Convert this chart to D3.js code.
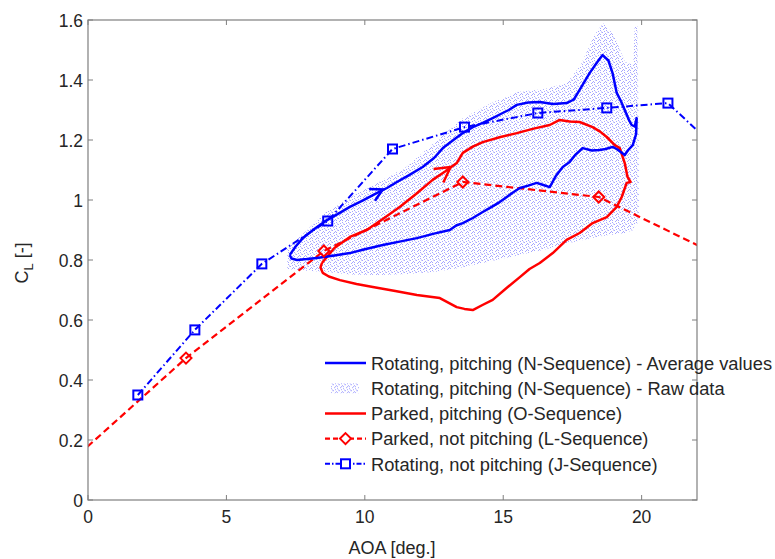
<!DOCTYPE html>
<html>
<head>
<meta charset="utf-8">
<script src="https://cdn.jsdelivr.net/npm/d3@7"></script>
<style>
  body { margin: 0; background: #fff; }
  text { font-family: "Liberation Sans", Arial, sans-serif; fill: #262626; }
</style>
</head>
<body>
<script>
// N-Sequence average loop (upper branch then lower branch)
const avgAoa = [7.29, 7.5, 7.76, 8.2, 8.63, 9.0, 9.46, 9.9, 10.43, 10.8, 11.16, 11.6, 12.09, 12.5, 12.82, 13.2, 13.54, 13.9, 14.26, 14.6, 14.98, 15.2, 15.49, 15.9, 16.32, 16.8, 17.29, 17.55, 17.76, 18.12, 18.4, 18.59, 18.8, 18.95, 19.1, 19.25, 19.39, 19.55, 19.64, 19.75, 19.82, 19.8, 19.68, 19.5, 19.39,
  19.1, 18.95, 18.7, 18.48, 18.2, 17.87, 17.6, 17.4, 17.15, 16.9, 16.68, 16.45, 16.21, 15.9, 15.6, 15.35, 15.13, 14.87, 14.6, 14.26, 13.9, 13.54, 13.3, 13.07, 12.5, 11.88, 11.3, 10.65, 10.0, 9.46, 8.9, 8.27, 7.9, 7.55, 7.35, 7.29];
const avgCl = [0.817, 0.845, 0.873, 0.905, 0.933, 0.952, 0.977, 0.997, 1.023, 1.04, 1.06, 1.083, 1.11, 1.14, 1.173, 1.2, 1.223, 1.243, 1.257, 1.272, 1.29, 1.3, 1.317, 1.325, 1.327, 1.32, 1.323, 1.335, 1.367, 1.423, 1.46, 1.483, 1.465, 1.423, 1.357, 1.33, 1.3, 1.265, 1.25, 1.245, 1.273, 1.22, 1.183, 1.165, 1.15,
  1.17, 1.177, 1.17, 1.167, 1.165, 1.173, 1.15, 1.127, 1.11, 1.08, 1.043, 1.05, 1.057, 1.048, 1.04, 1.025, 1.01, 0.993, 0.978, 0.96, 0.94, 0.923, 0.915, 0.9, 0.888, 0.873, 0.862, 0.85, 0.836, 0.823, 0.815, 0.807, 0.803, 0.8, 0.805, 0.817];

// O-Sequence loop (parked, pitching)
const pitchAoa = [8.45, 8.9, 9.46, 10.07, 10.7, 11.26, 11.85, 12.45, 12.9, 13.32, 13.54, 13.9, 14.26, 14.9, 15.49, 16.1, 16.68, 17.04, 17.4, 17.76, 18.23, 18.5, 18.74, 19.03, 19.21, 19.39, 19.49, 19.6,
  19.46, 19.28, 19.1, 18.74, 18.23, 17.76, 17.29, 16.79, 16.32, 15.95, 15.6, 15.1, 14.62, 14.25, 13.9, 13.6, 13.32, 12.71, 11.88, 11.1, 10.29, 9.7, 9.1, 8.7, 8.48, 8.4, 8.45];
const pitchCl = [0.79, 0.84, 0.877, 0.9, 0.94, 0.977, 1.02, 1.067, 1.095, 1.123, 1.157, 1.178, 1.193, 1.21, 1.223, 1.238, 1.25, 1.267, 1.262, 1.26, 1.243, 1.228, 1.21, 1.183, 1.173, 1.123, 1.077, 1.06,
  1.057, 1.01, 0.977, 0.943, 0.923, 0.89, 0.867, 0.823, 0.79, 0.77, 0.743, 0.705, 0.667, 0.65, 0.633, 0.637, 0.643, 0.673, 0.683, 0.697, 0.71, 0.72, 0.733, 0.745, 0.757, 0.775, 0.79];

// L-Sequence (parked, not pitching)
const parkedAoa = [-1.5, 3.54, 8.52, 13.54, 18.45, 24];
const parkedCl = [0.055, 0.473, 0.83, 1.06, 1.01, 0.76];

// J-Sequence (rotating, not pitching)
const rotAoa = [1.8, 3.86, 6.28, 8.66, 11.0, 13.6, 16.25, 18.74, 20.95, 24];
const rotCl = [0.35, 0.567, 0.787, 0.93, 1.17, 1.243, 1.29, 1.307, 1.323, 1.06];

// raw data cloud envelope
const rawAoa = [7.2, 7.8, 8.6, 9.5, 10.5, 11.5, 12.5, 13.5, 14.5, 15.5, 16.5, 17.3, 17.8, 18.3, 18.6, 19.0, 19.4, 19.7, 19.75, 19.85, 19.9];
const rawLow = [0.77, 0.765, 0.76, 0.752, 0.75, 0.753, 0.76, 0.775, 0.795, 0.815, 0.835, 0.855, 0.865, 0.875, 0.88, 0.885, 0.89, 0.9, 0.92, 0.92, 0.95];
const rawHigh = [0.84, 0.89, 0.96, 1.01, 1.06, 1.11, 1.19, 1.27, 1.32, 1.36, 1.37, 1.39, 1.45, 1.55, 1.59, 1.55, 1.46, 1.45, 1.58, 1.58, 1.2];

// direction arrows on the two loops
const arrowAoa = [10.65, 13.1];
const arrowCl = [1.035, 1.11];

const xTicks = [0, 5, 10, 15, 20];
const yTicks = [0, 0.2, 0.4, 0.6, 0.8, 1, 1.2, 1.4, 1.6];
const legendLabels = [
  "Rotating, pitching (N-Sequence) - Average values",
  "Rotating, pitching (N-Sequence) - Raw data",
  "Parked, pitching (O-Sequence)",
  "Parked, not pitching (L-Sequence)",
  "Rotating, not pitching (J-Sequence)"
];

const width = 775, height = 559;
const pLeft = 88, pRight = 697, pTop = 20, pBottom = 500;

const x = d3.scaleLinear().domain([0, 22]).range([pLeft, pRight]);
const y = d3.scaleLinear().domain([0, 1.6]).range([pBottom, pTop]);

const svg = d3.select("body").append("svg")
  .attr("width", width)
  .attr("height", height);

const defs = svg.append("defs");
defs.append("clipPath").attr("id", "plotclip")
  .append("rect")
  .attr("x", pLeft).attr("y", pTop)
  .attr("width", pRight - pLeft).attr("height", pBottom - pTop);

// light blue speckle tile for the raw samples
const pat = defs.append("pattern")
  .attr("id", "rawdots")
  .attr("patternUnits", "userSpaceOnUse")
  .attr("width", 6).attr("height", 6);
[[0, 0], [4, 1], [2, 2], [5, 3], [0, 4], [3, 5], [1, 1.5], [4, 4]].forEach(function (p) {
  pat.append("rect").attr("x", p[0]).attr("y", p[1]).attr("width", 1).attr("height", 1)
    .attr("fill", "#6b6bff").attr("opacity", 0.6);
});

const zip = (a, b) => a.map((v, i) => [v, b[i]]);
const line = d3.line().x(d => x(d[0])).y(d => y(d[1]));

const plot = svg.append("g").attr("clip-path", "url(#plotclip)");

// raw data cloud
plot.append("path")
  .datum(rawAoa.map((v, i) => [v, rawLow[i], rawHigh[i]]))
  .attr("d", d3.area().x(d => x(d[0])).y0(d => y(d[1])).y1(d => y(d[2])))
  .attr("fill", "url(#rawdots)");

// J-Sequence
plot.append("path")
  .datum(zip(rotAoa, rotCl))
  .attr("d", line)
  .attr("fill", "none")
  .attr("stroke", "#0000ff")
  .attr("stroke-width", 2)
  .attr("stroke-dasharray", "7,3,1.5,3");

// L-Sequence
plot.append("path")
  .datum(zip(parkedAoa, parkedCl))
  .attr("d", line)
  .attr("fill", "none")
  .attr("stroke", "#ff0000")
  .attr("stroke-width", 2.2)
  .attr("stroke-dasharray", "7,4");

// O-Sequence loop
plot.append("path")
  .datum(zip(pitchAoa, pitchCl))
  .attr("d", line)
  .attr("fill", "none")
  .attr("stroke", "#ff0000")
  .attr("stroke-width", 2.5)
  .attr("stroke-linejoin", "round");

// N-Sequence average loop
plot.append("path")
  .datum(zip(avgAoa, avgCl))
  .attr("d", line)
  .attr("fill", "none")
  .attr("stroke", "#0000ff")
  .attr("stroke-width", 2.5)
  .attr("stroke-linejoin", "round");

// markers
plot.selectAll(".sq")
  .data(zip(rotAoa, rotCl))
  .enter().append("rect")
  .attr("class", "sq")
  .attr("x", d => x(d[0]) - 4.5)
  .attr("y", d => y(d[1]) - 4.5)
  .attr("width", 9).attr("height", 9)
  .attr("fill", "none")
  .attr("stroke", "#0000ff")
  .attr("stroke-width", 2);

plot.selectAll(".dia")
  .data(zip(parkedAoa, parkedCl))
  .enter().append("path")
  .attr("class", "dia")
  .attr("transform", d => `translate(${x(d[0])},${y(d[1])})`)
  .attr("d", "M0,-5.5L5.5,0L0,5.5L-5.5,0Z")
  .attr("fill", "none")
  .attr("stroke", "#ff0000")
  .attr("stroke-width", 2);

// arrows: direction taken from the loop segment they sit on
const arrowSeries = [[avgAoa, avgCl, "#0000ff"], [pitchAoa, pitchCl, "#ff0000"]];
arrowAoa.forEach(function (a, k) {
  const s = arrowSeries[k];
  let j = 0;
  while (j < s[0].length - 2 && s[0][j + 1] < a) j++;
  const ang = Math.atan2(y(s[1][j + 1]) - y(s[1][j]), x(s[0][j + 1]) - x(s[0][j])) * 180 / Math.PI;
  const len = k === 0 ? 12 : 15;
  plot.append("path")
    .attr("transform", `translate(${x(a)},${y(arrowCl[k])}) rotate(${ang})`)
    .attr("d", `M${-len},${-len * 0.55}L0,0L${-len},${len * 0.55}`)
    .attr("fill", "none")
    .attr("stroke", s[2])
    .attr("stroke-width", 2.5);
});

// axes box and ticks
const axisColor = "#7f7f7f";
svg.append("rect")
  .attr("x", pLeft).attr("y", pTop)
  .attr("width", pRight - pLeft).attr("height", pBottom - pTop)
  .attr("fill", "none")
  .attr("stroke", axisColor)
  .attr("stroke-width", 1.2);

const tl = 5;
xTicks.forEach(function (t) {
  svg.append("line").attr("x1", x(t)).attr("x2", x(t)).attr("y1", pBottom).attr("y2", pBottom - tl).attr("stroke", axisColor);
  svg.append("line").attr("x1", x(t)).attr("x2", x(t)).attr("y1", pTop).attr("y2", pTop + tl).attr("stroke", axisColor);
  svg.append("text")
    .attr("x", x(t)).attr("y", pBottom + 23)
    .attr("text-anchor", "middle")
    .style("font-size", "17.5px")
    .text(t);
});
yTicks.forEach(function (t) {
  svg.append("line").attr("x1", pLeft).attr("x2", pLeft + tl).attr("y1", y(t)).attr("y2", y(t)).attr("stroke", axisColor);
  svg.append("line").attr("x1", pRight).attr("x2", pRight - tl).attr("y1", y(t)).attr("y2", y(t)).attr("stroke", axisColor);
  svg.append("text")
    .attr("x", pLeft - 5).attr("y", y(t) + 6.5)
    .attr("text-anchor", "end")
    .style("font-size", "17.5px")
    .text(t);
});

// axis labels
svg.append("text")
  .attr("x", 392).attr("y", 554)
  .attr("text-anchor", "middle")
  .style("font-size", "18px")
  .text("AOA [deg.]");

const yl = svg.append("text")
  .attr("transform", "translate(28,263) rotate(-90)")
  .attr("text-anchor", "middle")
  .style("font-size", "18px");
yl.append("tspan").text("C");
yl.append("tspan").attr("dy", 5).style("font-size", "13px").text("L");
yl.append("tspan").attr("dy", -5).text(" [-]");

// legend
const legend = svg.append("g").attr("transform", "translate(325,363)");
const rows = legend.selectAll(".row")
  .data(legendLabels)
  .enter().append("g")
  .attr("class", "row")
  .attr("transform", (d, i) => `translate(0,${i * 25.2})`);

rows.append("text")
  .attr("x", 46).attr("y", 6.8)
  .style("font-size", "18.3px")
  .text(d => d);

const r = rows.nodes().map(n => d3.select(n));
r[0].append("line").attr("x1", 0).attr("x2", 41).attr("stroke", "#0000ff").attr("stroke-width", 2.5);
r[1].append("rect").attr("x", 6).attr("y", -5).attr("width", 28).attr("height", 10).attr("fill", "url(#rawdots)");
r[2].append("line").attr("x1", 0).attr("x2", 41).attr("stroke", "#ff0000").attr("stroke-width", 2.5);
r[3].append("line").attr("x1", 0).attr("x2", 41).attr("stroke", "#ff0000").attr("stroke-width", 2.2).attr("stroke-dasharray", "5,3");
r[3].append("path").attr("transform", "translate(20.5,0)").attr("d", "M0,-5.5L5.5,0L0,5.5L-5.5,0Z").attr("fill", "#fff").attr("stroke", "#ff0000").attr("stroke-width", 2);
r[4].append("line").attr("x1", 0).attr("x2", 41).attr("stroke", "#0000ff").attr("stroke-width", 2).attr("stroke-dasharray", "5,2,1.5,2");
r[4].append("rect").attr("x", 16).attr("y", -4.5).attr("width", 9).attr("height", 9).attr("fill", "#fff").attr("stroke", "#0000ff").attr("stroke-width", 2);
</script>
</body>
</html>
